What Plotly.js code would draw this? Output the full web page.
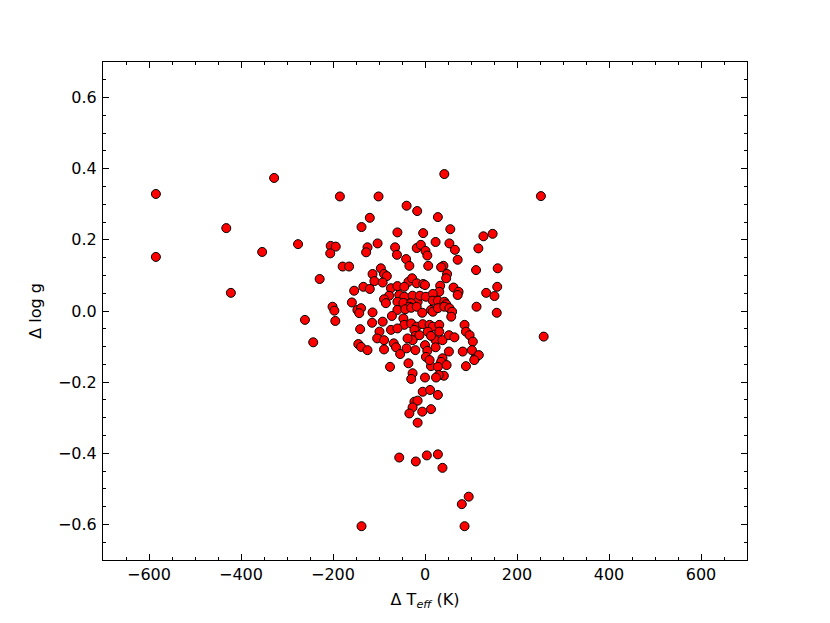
<!DOCTYPE html>
<html>
<head>
<meta charset="utf-8">
<script src="https://cdn.plot.ly/plotly-3.0.1.min.js"></script>
<style>
  html, body { margin: 0; padding: 0; background: #ffffff; }
  #plot { width: 830px; height: 623px; }
</style>
</head>
<body>
<div id="plot"></div>
<script>
/* Delta Teff (K) vs Delta log g */

var dTeff = [
  -585, -585, -328, -432, -422, -354, -276, -261, -243, -229, 252, 258,
  42, -185, -101, -40, -17, -120, -138, 28, -60, -4, 55, 127, 147,
  -205, -194, -206, -103, -125, -128, -65, -61, -41, -34, 23, 53, 65, 71, 116,
  -18, -9, 1, 5, 7, 40, 35, -179, -165, -96, 158, 111,
  -114, -89, -83, -110, -92, -134, -120, -154, -74, -60, -36, -28, -18, -4, 0, -45,
  48, 46, 33, 31, 62, 73, 71, 133, 151, 157,
  -78, -89, -85, -56, -45, -27, -16, -60, -47, -30, -34, -11, 2, 17, 17, 28, 42, 46,
  -159, -201, -197, -195, -147, -139, -143, -114, -60, -43, -30, -18, -6, 13, 17, 28,
  42, 53, 59, 57, 112, 156,
  -115, -92, -72, -47, -45, -30, -18, -5, 10, 17, 31,
  -141, -99, -104, -89, -74, -60, -23, -21, -27, -38, -12, 6, 23, 13, 31, 38, 52, 64,
  86, 89, 97, 104,
  -145, -139, -125, -89, -68, -63, -54, -40, -21, 0, 5, 2, 23, 52, 38, 35, 47,
  82, 102, 109, 117, -76, -36, 13, 28, 89,
  10, 41, 30, 24, 107, -27, -30, 0, -5, 11, 28,
  -23, -16, -27, -34, -6, 13, -16,
  -56, -20, 4, 28, 38, 95, 80, -138, 86
];

var dLogg = [
  0.329, 0.152, 0.374, 0.233, 0.051, 0.166, 0.188, -0.025, -0.088, 0.090, 0.323, -0.072,
  0.385, 0.322, 0.322, 0.296, 0.281, 0.262, 0.236, 0.264, 0.221, 0.219, 0.230, 0.210, 0.217,
  0.183, 0.181, 0.162, 0.190, 0.179, 0.165, 0.179, 0.158, 0.146, 0.127, 0.194, 0.190, 0.172, 0.144, 0.176,
  0.177, 0.186, 0.169, 0.156, 0.127, 0.127, 0.123, 0.125, 0.125, 0.120, 0.120, 0.115,
  0.104, 0.104, 0.098, 0.084, 0.080, 0.068, 0.062, 0.057, 0.064, 0.070, 0.082, 0.092, 0.078, 0.076, 0.073, 0.068,
  0.104, 0.092, 0.071, 0.054, 0.066, 0.054, 0.045, 0.051, 0.042, 0.068,
  0.043, 0.033, 0.022, 0.045, 0.040, 0.043, 0.026, 0.026, 0.023, 0.022, 0.012, 0.043, 0.040, 0.048, 0.029, 0.029, 0.026, 0.019,
  0.024, 0.012, 0.001, -0.028, 0.003, 0.008, -0.006, -0.004, 0.003, 0.005, 0.009, 0.012, -0.005, 0.003, -0.002, 0.008,
  0.012, 0.008, -0.002, -0.016, 0.012, -0.005,
  -0.033, -0.030, -0.014, -0.021, -0.039, -0.035, -0.044, -0.037, -0.039, -0.044, -0.039,
  -0.051, -0.058, -0.077, -0.082, -0.053, -0.049, -0.053, -0.070, -0.082, -0.077, -0.068, -0.058, -0.082, -0.070, -0.058, -0.082, -0.068, -0.074,
  -0.039, -0.058, -0.068, -0.086,
  -0.093, -0.101, -0.110, -0.108, -0.091, -0.102, -0.121, -0.105, -0.110, -0.096, -0.112, -0.129, -0.102, -0.114, -0.133, -0.143, -0.152,
  -0.114, -0.110, -0.133, -0.124, -0.157, -0.147, -0.155, -0.157, -0.155,
  -0.138, -0.182, -0.180, -0.187, -0.138, -0.175, -0.191, -0.187, -0.227, -0.222, -0.236,
  -0.255, -0.252, -0.271, -0.288, -0.283, -0.276, -0.314,
  -0.412, -0.423, -0.406, -0.403, -0.441, -0.522, -0.543, -0.605, -0.605
];

var trace1 = {
  x: dTeff,
  y: dLogg,
  type: 'scatter',
  mode: 'markers',
  marker: {
    color: '#ff0000',
    size: 9,
    line: { color: '#000000', width: 1 }
  },
  hoverinfo: 'x+y'
};

var axisFont = { family: 'DejaVu Sans, sans-serif', size: 16, color: '#000000' };

var layout = {
  width: 830,
  height: 623,
  margin: { l: 103, r: 83, t: 62, b: 63 },
  paper_bgcolor: '#ffffff',
  plot_bgcolor: '#ffffff',
  showlegend: false,
  font: axisFont,
  xaxis: {
    range: [-700, 700],
    dtick: 200,
    tick0: 0,
    ticks: 'inside',
    ticklen: 6,
    tickcolor: '#000000',
    showline: true,
    linecolor: '#000000',
    linewidth: 1,
    mirror: 'ticks',
    showgrid: false,
    zeroline: false,
    tickfont: axisFont,
    minor: { ticks: 'inside', ticklen: 3, dtick: 50, tickcolor: '#000000', showgrid: false },
    title: { text: 'Δ T<sub><i>eff</i></sub> (K)', font: axisFont, standoff: 10 }
  },
  yaxis: {
    range: [-0.7, 0.7],
    dtick: 0.2,
    tick0: 0,
    tickformat: '.1f',
    ticks: 'inside',
    ticklen: 6,
    tickcolor: '#000000',
    showline: true,
    linecolor: '#000000',
    linewidth: 1,
    mirror: 'ticks',
    showgrid: false,
    zeroline: false,
    tickfont: axisFont,
    ticklabelstandoff: 2,
    minor: { ticks: 'inside', ticklen: 3, dtick: 0.05, tickcolor: '#000000', showgrid: false },
    title: { text: 'Δ log g', font: axisFont, standoff: 12 }
  }
};

Plotly.newPlot('plot', [trace1], layout, { displayModeBar: false, staticPlot: true });
</script>
</body>
</html>
